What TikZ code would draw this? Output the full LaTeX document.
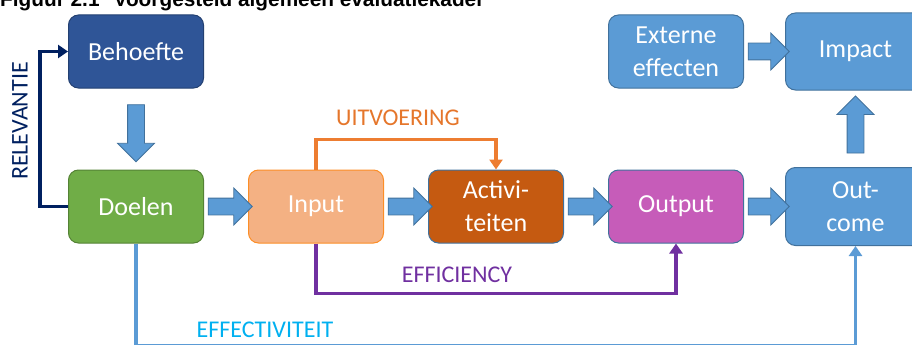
\documentclass[tikz,border=0pt]{standalone}
\usepackage{fontspec}
\setmainfont{Carlito}
\newfontfamily\titlefont{Liberation Sans}
\usetikzlibrary{positioning,shapes.arrows,arrows.meta,calc}

\definecolor{boxblue}{HTML}{5B9BD5}
\definecolor{edgeblue}{HTML}{41719C}
\definecolor{darkblue}{HTML}{2F5597}
\definecolor{navy}{HTML}{002060}
\definecolor{leafgreen}{HTML}{70AD47}
\definecolor{peach}{HTML}{F4B183}
\definecolor{rust}{HTML}{C55A11}
\definecolor{orchid}{HTML}{C65CB9}
\definecolor{tangerine}{HTML}{ED7D31}
\definecolor{grape}{HTML}{7030A0}
\definecolor{sky}{HTML}{00B0F0}

\tikzset{
  box/.style={draw=edgeblue, line width=1pt, rounded corners=10pt,
    minimum width=135pt, minimum height=73pt, inner sep=0pt,
    text=white, align=center, font={\fontsize{26}{33}\selectfont}},
  fat/.style={single arrow, draw=edgeblue, fill=boxblue, line width=0.8pt,
    inner sep=8pt, single arrow head extend=10pt, single arrow tip angle=90,
    minimum height=#1},
  flow/.style={line width=3.5pt, -{Triangle[width=13pt,length=10pt]}},
  tag/.style={inner sep=0pt, font={\fontsize{24}{28}\selectfont}}
}

\begin{document}
\begin{tikzpicture}[x=1pt, y=-1pt]
    \useasboundingbox (0,0) rectangle (912,345);
    \clip (0,0) rectangle (912,345);

    \node[anchor=base west, inner sep=0pt, font={\titlefont\bfseries\fontsize{20.8}{24}\selectfont}] (title) at (0,7) {Figuur 2.1\hspace{0.4em} Voorgesteld algemeen evaluatiekader};

    % boxes
    \node[box, fill=darkblue, draw=darkblue!75!black] (beh) at (136,51.5) {Behoefte};
    \node[box, fill=leafgreen, draw=leafgreen!75!black] (doel) at (136,206.5) {Doelen};
    \node[box, fill=peach, draw=orange!70!peach, right=44pt of doel] (input) {Input};
    \node[box, fill=rust, right=44pt of input] (activ) {Activi-\\teiten};
    \node[box, fill=orchid, right=44pt of activ] (output) {Output};
    \node[box, fill=boxblue, minimum width=140pt, minimum height=78pt, right=41pt of output] (outcome) {Out-\\come};
    \node[box, fill=boxblue] (extern) at (output |- beh) {Externe\\effecten};
    \node[box, fill=boxblue, minimum width=140pt, minimum height=77pt, right=41pt of extern] (impact) {Impact};

    % fat arrows
    \node[fat=57pt, shape border rotate=270] (a0) at ($(beh.south)!0.5!(doel.north)$) {};
    \node[fat=44pt] (a1) at ($(doel.east)!0.5!(input.west)$) {};
    \node[fat=44pt] (a2) at ($(input.east)!0.5!(activ.west)$) {};
    \node[fat=44pt] (a3) at ($(activ.east)!0.5!(output.west)$) {};
    \node[fat=41pt] (a4) at ($(output.east)!0.5!(outcome.west)$) {};
    \node[fat=41pt] (a5) at ($(extern.east)!0.5!(impact.west)$) {};
    \node[fat=57pt, shape border rotate=90] (a6) at ($(outcome.north)!0.5!(impact.south)$) {};

    % feedback lines
    \draw[flow, navy] (doel.west) -- ++(-28,0) |- (beh.west);
    \draw[flow, tangerine] (input.north) -- ++(0,-30) -| (activ.north);
    \draw[flow, grape] (input.south) -- ++(0,50) -| (output.south);
    \draw[flow, boxblue] (doel.south) -- ++(0,102) -| (outcome.south);

    \node[tag, text=navy, rotate=90] (relev) at (20,121) {RELEVANTIE};
    \node[tag, text=tangerine!80!rust] (uitv) at (398,118) {UITVOERING};
    \node[tag, text=grape] (effic) at (457,275) {EFFICIENCY};
    \node[tag, text=sky] (effect) at (265,330) {EFFECTIVITEIT};
\end{tikzpicture}
\end{document}
